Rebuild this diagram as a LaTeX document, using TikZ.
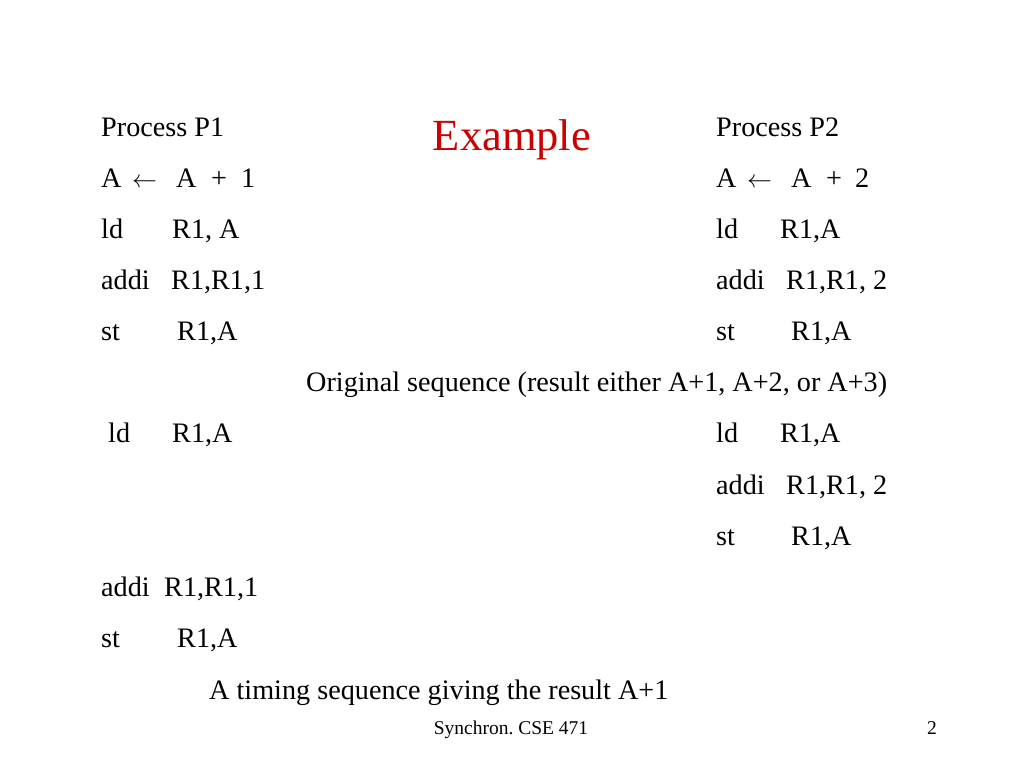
\documentclass[tikz,border=0pt]{standalone}
\usepackage{fontspec}
\setmainfont{Liberation Serif}
\usepackage{xcolor}
\usetikzlibrary{positioning}
\definecolor{titlered}{RGB}{204,0,0}
\frenchspacing

\begin{document}
\begin{tikzpicture}[x=1pt,y=-1pt]
    \tikzstyle{txt}=[anchor=base west,inner sep=0pt,font=\fontsize{28.2}{30}\selectfont]
    \tikzstyle{title}=[anchor=base,inner sep=0pt,text=titlered,font=\fontsize{44.5}{48}\selectfont]
    \tikzstyle{foot}=[anchor=base,inner sep=0pt,font=\fontsize{19.5}{21}\selectfont]

    \useasboundingbox[fill=white] (0,0) rectangle (1024,768);

    \node[title] (T) at (512,150) {Example};

    % process P1
    \node[txt] (H1) at (101,136) {Process P1};
    \node[txt] (E1) at (101,187) {A};
    \node[txt] (E1a) at (132,187) {$\leftarrow$};
    \node[txt] (E1b) at (176,187) {A};
    \node[txt] (E1c) at (211,187) {+};
    \node[txt] (E1d) at (241,187) {1};
    \node[txt] (L1) at (101,238) {ld};
    \node[txt] (L1o) at (172,238) {R1, A};
    \node[txt] (D1) at (101,289) {addi};
    \node[txt] (D1o) at (171,289) {R1,R1,1};
    \node[txt] (S1) at (101,340) {st};
    \node[txt] (S1o) at (177,340) {R1,A};

    % process P2
    \node[txt] (H2) at (716,136) {Process P2};
    \node[txt] (E2) at (716,187) {A};
    \node[txt] (E2a) at (747,187) {$\leftarrow$};
    \node[txt] (E2b) at (791,187) {A};
    \node[txt] (E2c) at (826,187) {+};
    \node[txt] (E2d) at (855,187) {2};
    \node[txt] (L2) at (716,238) {ld};
    \node[txt] (L2o) at (780,238) {R1,A};
    \node[txt] (D2) at (716,289) {addi};
    \node[txt] (D2o) at (786,289) {R1,R1, 2};
    \node[txt] (S2) at (716,340) {st};
    \node[txt] (S2o) at (791,340) {R1,A};

    \node[txt] (C1) at (306,391) {Original sequence (result either A+1, A+2, or A+3)};

    % timing sequence
    \node[txt] (TL1) at (108,442) {ld};
    \node[txt] (TL1o) at (172,442) {R1,A};
    \node[txt] (TL2) at (716,442) {ld};
    \node[txt] (TL2o) at (780,442) {R1,A};
    \node[txt] (TD2) at (716,494) {addi};
    \node[txt] (TD2o) at (786,494) {R1,R1, 2};
    \node[txt] (TS2) at (716,545) {st};
    \node[txt] (TS2o) at (791,545) {R1,A};
    \node[txt] (TD1) at (101,596) {addi};
    \node[txt] (TD1o) at (164,596) {R1,R1,1};
    \node[txt] (TS1) at (101,647) {st};
    \node[txt] (TS1o) at (177,647) {R1,A};

    \node[txt] (C2) at (209,699) {A timing sequence giving the result A+1};

    \node[foot] (F) at (511,734) {Synchron. CSE 471};
    \node[foot] (N) at (932,734) {2};
\end{tikzpicture}
\end{document}
